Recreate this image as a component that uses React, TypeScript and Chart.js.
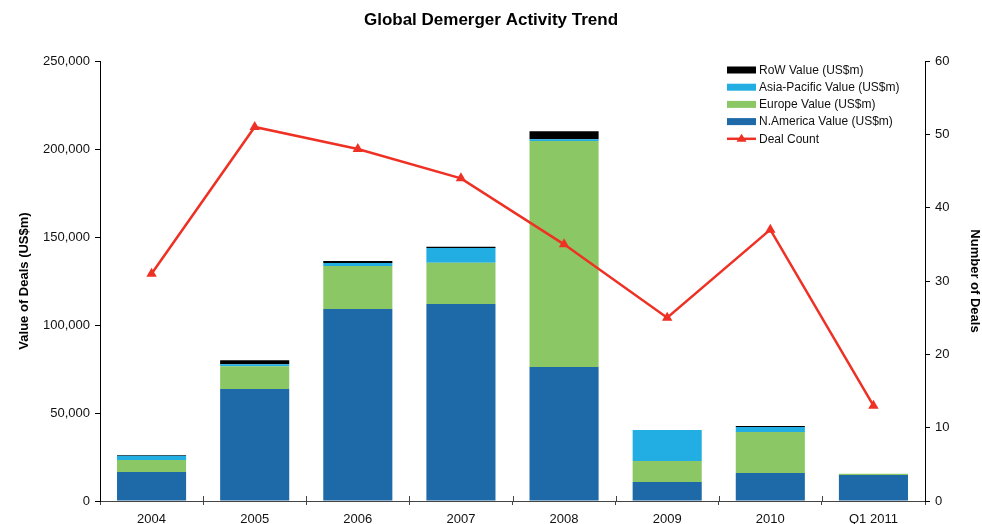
import React, { useEffect, useRef } from "react";
import { Chart, registerables } from "chart.js";

Chart.register(...registerables);

const categories = ["2004", "2005", "2006", "2007", "2008", "2009", "2010", "Q1 2011"];
const nAmericaValues = [16500, 63600, 109100, 112000, 76100, 10800, 15900, 14800];
const europeValues = [6800, 13000, 24400, 23300, 128400, 11900, 23300, 700];
const asiaPacificValues = [2400, 1100, 1700, 8500, 1100, 17600, 2800, 0];
const rowValues = [400, 2300, 1100, 700, 4500, 0, 600, 0];
const dealCounts = [31, 51, 48, 44, 35, 25, 37, 13];

const COLORS = {
  na: "#1e6aa9",
  eu: "#8cc766",
  ap: "#22aee3",
  row: "#000000",
  line: "#ee3124",
};

const FONT = "'Liberation Sans', Arial, sans-serif";

const legendPlugin = {
  id: "insideLegend",
  afterDraw(chart: any) {
    const ctx = chart.ctx;
    const ds = chart.data.datasets;
    const order = [3, 2, 1, 0, 4];
    const x0 = 727;
    const boxW = 29;
    const boxH = 7;
    const y0 = 70;
    const gap = 17.2;
    ctx.save();
    ctx.font = `12px ${FONT}`;
    ctx.textBaseline = "middle";
    order.forEach((idx: number, i: number) => {
      const d = ds[idx];
      const y = y0 + i * gap;
      if (d.type === "line") {
        ctx.strokeStyle = d.borderColor;
        ctx.lineWidth = 2.5;
        ctx.beginPath();
        ctx.moveTo(x0, y);
        ctx.lineTo(x0 + boxW, y);
        ctx.stroke();
        ctx.fillStyle = d.borderColor;
        ctx.beginPath();
        ctx.moveTo(x0 + boxW / 2, y - 5);
        ctx.lineTo(x0 + boxW / 2 + 5, y + 3);
        ctx.lineTo(x0 + boxW / 2 - 5, y + 3);
        ctx.closePath();
        ctx.fill();
      } else {
        ctx.fillStyle = d.backgroundColor;
        ctx.fillRect(x0, y - boxH / 2, boxW, boxH);
      }
      ctx.fillStyle = "#111";
      ctx.fillText(d.label, x0 + boxW + 3, y + 0.5);
    });
    ctx.restore();
  },
};

const crossTicksPlugin = {
  id: "crossTicks",
  afterDraw(chart: any) {
    const x = chart.scales.x;
    const ctx = chart.ctx;
    const bottom = chart.chartArea.bottom;
    ctx.save();
    ctx.strokeStyle = "#444";
    ctx.lineWidth = 1;
    const n = x.ticks.length;
    for (let i = 1; i < n; i++) {
      const px = Math.round((x.getPixelForTick(i - 1) + x.getPixelForTick(i)) / 2) + 0.5;
      ctx.beginPath();
      ctx.moveTo(px, bottom - 5);
      ctx.lineTo(px, bottom);
      ctx.stroke();
    }
    ctx.restore();
  },
};

export default function App() {
  const canvasRef = useRef<HTMLCanvasElement | null>(null);

  useEffect(() => {
    if (!canvasRef.current) return;
    const barCommon = {
      type: "bar",
      yAxisID: "y",
      stack: "v",
      order: 1,
      barPercentage: 0.67,
      categoryPercentage: 1,
    };
    const chart = new Chart(canvasRef.current, {
      type: "bar",
      data: {
        labels: categories,
        datasets: [
          { ...barCommon, label: "N.America Value (US$m)", data: nAmericaValues, backgroundColor: COLORS.na } as any,
          { ...barCommon, label: "Europe Value (US$m)", data: europeValues, backgroundColor: COLORS.eu } as any,
          { ...barCommon, label: "Asia-Pacific Value (US$m)", data: asiaPacificValues, backgroundColor: COLORS.ap } as any,
          { ...barCommon, label: "RoW Value (US$m)", data: rowValues, backgroundColor: COLORS.row } as any,
          {
            type: "line",
            label: "Deal Count",
            data: dealCounts,
            borderColor: COLORS.line,
            backgroundColor: COLORS.line,
            borderWidth: 2.5,
            pointStyle: "triangle",
            pointRadius: 6,
            pointBorderWidth: 0,
            yAxisID: "y1",
            order: 0,
            tension: 0,
          } as any,
        ],
      },
      options: {
        animation: false,
        responsive: true,
        maintainAspectRatio: false,
        layout: { padding: 0 },
        plugins: {
          legend: { display: false },
          tooltip: { enabled: false },
          title: {
            display: true,
            text: "Global Demerger Activity Trend",
            color: "#000",
            font: { family: FONT, size: 17, weight: "bold" },
            padding: { top: 10, bottom: 30.6 },
          },
        },
        scales: {
          x: {
            type: "category",
            offset: true,
            stacked: true,
            grid: {
              offset: true,
              drawOnChartArea: false,
              tickLength: 4,
              color: "#444",
            },
            border: { color: "#444", width: 1 },
            ticks: {
              color: "#111",
              font: { family: FONT, size: 13 },
              padding: 6.5,
              maxRotation: 0,
            },
            afterFit(scale: any) {
              scale.height = 23;
            },
          },
          y: {
            type: "linear",
            position: "left",
            stacked: true,
            min: 0,
            max: 250000,
            ticks: {
              stepSize: 50000,
              color: "#111",
              font: { family: FONT, size: 13 },
              padding: 5,
            },
            grid: { drawOnChartArea: false, tickLength: 5, color: "#000" },
            border: { color: "#000", width: 1 },
            title: {
              display: true,
              text: "Value of Deals (US$m)",
              color: "#000",
              font: { family: FONT, size: 13, weight: "bold" },
              padding: { top: 17, bottom: 0 },
            },
            afterFit(scale: any) {
              scale.width = 100;
            },
          },
          y1: {
            type: "linear",
            position: "right",
            min: 0,
            max: 60,
            ticks: {
              stepSize: 10,
              color: "#111",
              font: { family: FONT, size: 13 },
              padding: 5,
            },
            grid: { drawOnChartArea: false, tickLength: 5, color: "#000" },
            border: { color: "#000", width: 1 },
            title: {
              display: true,
              text: "Number of Deals",
              color: "#000",
              font: { family: FONT, size: 13, weight: "bold" },
              padding: { top: 0, bottom: 0 },
            },
            afterFit(scale: any) {
              scale.width = 57;
            },
          },
        },
      },
      plugins: [legendPlugin, crossTicksPlugin],
    });
    return () => chart.destroy();
  }, []);

  return (
    <div style={{ position: "fixed", left: 0, top: 0, width: 982, height: 524, background: "#fff" }}>
      <canvas ref={canvasRef} />
    </div>
  );
}
